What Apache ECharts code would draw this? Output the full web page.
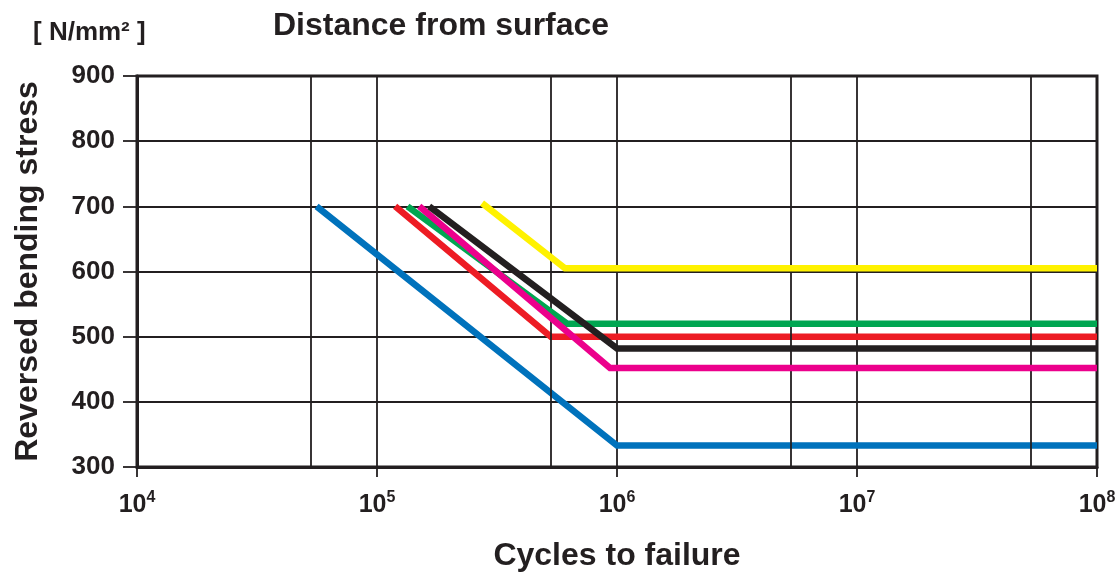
<!DOCTYPE html>
<html>
<head>
<meta charset="utf-8">
<title>Reversed bending stress vs cycles to failure</title>
<script src="https://cdn.jsdelivr.net/npm/echarts@6/dist/echarts.min.js"></script>
<style>
  html, body { margin: 0; padding: 0; background: #ffffff; }
  #chart { width: 1120px; height: 572px; }
</style>
</head>
<body>
<div id="chart"></div>
<script>
// S-N curves: each curve is a sloped segment from its start point down to a knee,
// then a flat endurance limit out to 10^8 cycles.
const curveNames = ['Blue', 'Red', 'Green', 'Magenta', 'Black', 'Yellow'];
const curveColors = ['#0072bc', '#ed1c24', '#00a651', '#ec008c', '#231f20', '#fff200'];
const startCycles = [56000, 119000, 134000, 150000, 165000, 274000];
const startStress = [700, 700, 700, 700, 700, 705];
const kneeCycles = [1000000, 530000, 619000, 935000, 1000000, 607000];
const kneeStress = [333, 500, 520, 452, 482, 605];
const endCycles = [100000000, 100000000, 100000000, 100000000, 100000000, 100000000];

// Extra vertical rules between the decades
const midRules = [53000, 530000, 5300000, 53000000];

const xMin = 1e4, xMax = 1e8;
const yMin = 300, yMax = 900, yStep = 100;

const INK = '#231f20';
const FONT = '"Liberation Sans", Arial, Helvetica, sans-serif';

const series = curveNames.map(function (name, i) {
  return {
    name: name,
    type: 'line',
    data: [
      [startCycles[i], startStress[i]],
      [kneeCycles[i], kneeStress[i]],
      [endCycles[i], kneeStress[i]]
    ],
    showSymbol: false,
    symbol: 'none',
    clip: false,
    lineStyle: { color: curveColors[i], width: 6.5, cap: 'butt', join: 'miter' },
    z: 3 + i
  };
});

// Thin gridlines at the mid-decade positions
series.push({
  name: 'rules',
  type: 'line',
  data: [],
  silent: true,
  markLine: {
    silent: true,
    symbol: 'none',
    label: { show: false },
    lineStyle: { color: INK, width: 1.8, type: 'solid' },
    data: midRules.map(function (v) { return { xAxis: v }; })
  },
  z: 1
});

const chart = echarts.init(document.getElementById('chart'), null, { renderer: 'canvas' });

chart.setOption({
  animation: false,
  backgroundColor: '#ffffff',
  title: [
    {
      text: 'Distance from surface',
      left: 268, top: 5,
      textStyle: { fontFamily: FONT, fontWeight: 'bold', fontSize: 32, color: INK }
    },
    {
      text: '[ N/mm\u00B2 ]',
      left: 28, top: 15,
      textStyle: { fontFamily: FONT, fontWeight: 'bold', fontSize: 26, color: INK }
    }
  ],
  grid: {
    left: 137, right: 23, top: 76, bottom: 105,
    show: true,
    borderColor: INK,
    borderWidth: 3,
    containLabel: false,
    outerBoundsMode: 'none'
  },
  xAxis: {
    type: 'log',
    logBase: 10,
    min: xMin,
    max: xMax,
    name: 'Cycles to failure',
    nameLocation: 'middle',
    nameGap: 73,
    nameTextStyle: { fontFamily: FONT, fontWeight: 'bold', fontSize: 32, color: INK },
    axisLine: { show: true, lineStyle: { color: INK, width: 3 } },
    axisTick: { show: true, inside: false, length: 10, lineStyle: { color: INK, width: 1.8 } },
    minorTick: { show: false },
    splitLine: { show: true, lineStyle: { color: INK, width: 1.8 } },
    axisLabel: {
      margin: 23,
      color: INK,
      formatter: function (v) {
        const e = Math.round(Math.log10(v));
        return '{b|10}{s|' + e + '}';
      },
      rich: {
        b: { fontFamily: FONT, fontWeight: 'bold', fontSize: 25, color: INK },
        s: { fontFamily: FONT, fontWeight: 'bold', fontSize: 16, color: INK, padding: [0, 0, 14, 0] }
      }
    }
  },
  yAxis: {
    type: 'value',
    min: yMin,
    max: yMax,
    interval: yStep,
    name: 'Reversed bending stress',
    nameLocation: 'middle',
    nameGap: 93,
    nameRotate: 90,
    nameTextStyle: { fontFamily: FONT, fontWeight: 'bold', fontSize: 32, color: INK },
    axisLine: { show: true, lineStyle: { color: INK, width: 3 } },
    axisTick: { show: true, inside: false, length: 14, lineStyle: { color: INK, width: 1.8 } },
    splitLine: { show: true, lineStyle: { color: INK, width: 1.8 } },
    axisLabel: {
      margin: 22,
      padding: [4, 0, 0, 0],
      color: INK,
      fontFamily: FONT,
      fontWeight: 'bold',
      fontSize: 26
    }
  },
  series: series
});
</script>
</body>
</html>
